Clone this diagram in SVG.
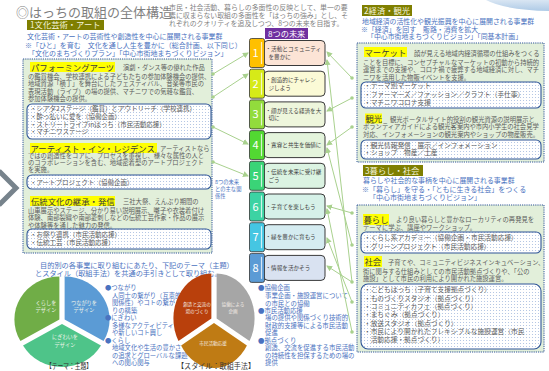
<svg xmlns="http://www.w3.org/2000/svg" width="549" height="371" viewBox="0 0 549 371">
<defs>
<style>
text{font-family:'Noto Sans CJK JP','Noto Sans',sans-serif;}
.ti{font-size:13px;fill:#7f7f7f}
.sub{font-size:6.9px;fill:#7f7f7f}
.sec{fill:#7f7f00}
.sect{font-size:8.3px;fill:#f4f4dc}
.bl{fill:#4a72c0}
.b7{font-size:7px}
.g{fill:#5c5c5c;font-size:6.3px}
.hl{fill:#ffff00}
.ht{font-size:8.4px;fill:#3a3a3a}
.box{fill:#e2efda;stroke:#2f5597;stroke-width:1;stroke-dasharray:1.2 1}
.inner{fill:url(#dots);stroke:#2f5597;stroke-width:1.1}
.li{fill:#5c5c5c;font-size:6.5px}
.lir{fill:#5c5c5c;font-size:6.7px}
.tab{stroke:#333;stroke-width:0.8}
.stripe{stroke:#fff;stroke-opacity:0.75;stroke-width:1.2}
.num{font-size:11px;fill:#fff;text-anchor:middle}
.fb{stroke:#3a3a3a;stroke-width:1}
.ft{font-size:5.6px;fill:#404040}
.con{stroke:#a9d18e;stroke-width:1;fill:none;marker-end:url(#ah)}
.dot{fill:#a9d18e}
.pl{font-size:5.2px;fill:#eef4ea;text-anchor:middle}
.pl2{font-size:4.6px;fill:#f4ece6;text-anchor:middle}
.m{font-size:6.4px}
.bt{font-size:6.3px}
</style>
<pattern id="dots" width="3" height="3" patternUnits="userSpaceOnUse"><rect width="3" height="3" fill="#fff"/><circle cx="1.5" cy="1.5" r="0.55" fill="#a8bde0"/></pattern>
<marker id="ah" markerUnits="userSpaceOnUse" markerWidth="6" markerHeight="6" refX="5" refY="3" orient="auto"><path d="M0,0 L6,3 L0,6 Z" fill="#a9d18e"/></marker>
<linearGradient id="blob" x1="0" y1="0" x2="0" y2="1"><stop offset="0" stop-color="#d9e6f3"/><stop offset="1" stop-color="#aecae6"/></linearGradient>
</defs>
<rect width="549" height="371" fill="#fff"/>
<path d="M486,0 Q505,10 549,11 V0 Z" fill="url(#blob)"/>

<g id="title">
<text class="ti" x="16" y="16.8">◎はっちの取組の全体構造</text>
<text class="sub" x="169" y="10">市民・社会活動、暮らしの多面性の反映として、単一の要</text>
<text class="sub" x="169" y="18">素に収まらない取組の多面性を「はっちの強み」とし、そ</text>
<text class="sub" x="169" y="25.5">れぞれのクオリティを追及しつつ、8つの未来を目指す。</text>
</g>

<polyline points="-1,171 16,188 -1,205" fill="none" stroke="#77838c" stroke-width="5"/>

<g id="sec1">
<rect class="sec" x="27" y="20" width="77" height="10"/>
<text class="sect" x="30" y="28.3">1文化芸術・アート</text>
<text class="bl b7" x="27" y="39">文化芸術・アートの芸術性や創造性を中心に展開される事業群</text>
<text class="bl b7" x="25" y="48" font-size="6.9">※「ひと」を育む　文化を通し人生を豊かに（総合計画、以下同じ）</text>
<text class="bl b7" x="28" y="56">「文化のまちづくりプラン」「中心市街地まちづくりビジョン」</text>
</g>

<g id="left-box">
<rect class="box" x="23" y="59" width="189" height="194"/>
<rect class="hl" x="30" y="62" width="85" height="10"/>
<text class="ht" x="31" y="70.5">パフォーミングアーツ</text>
<text class="g" x="123" y="70.3">演劇・ダンス等の優れた作品</text>
<text class="g" x="28" y="79">の鑑賞機会、学校連携による子どもたちの参加体験機会の提供、</text>
<text class="g" x="28" y="86.3">地域資源「横丁」を舞台にしたフェスティバル、音楽等市民の</text>
<text class="g" x="28" y="93.6">表現活動（ライブ）の場の提供、マチニワでの気軽な鑑賞、</text>
<text class="g" x="28" y="100.9">参加体験機会の提供。</text>
<rect class="inner" x="27" y="104" width="184" height="35" rx="5"/>
<text class="li" x="30" y="111.3">・シアタ2ステージ（鑑賞）とアウトリーチ（学校連携）</text>
<text class="li" x="30" y="119">・酔っ払いに愛を（協働企画）</text>
<text class="li" x="30" y="126.7">・ストリートライブinはっち（市民活動応援）</text>
<text class="li" x="30" y="134.4">・マチニワステージ</text>

<rect class="hl" x="30" y="143" width="127" height="10"/>
<text class="ht" x="30.5" y="151.5">アーティスト・イン・レジデンス</text>
<text class="g" x="160" y="151.3">アーティストなら</text>
<text class="g" x="28" y="157.5">ではの創造性をコアに、プロセスを重視し、様々な属性の人と</text>
<text class="g" x="28" y="164.6">のコラボレーションを含む、地域密着型のアートプロジェクト</text>
<text class="g" x="28" y="171.5">を実施。</text>
<rect class="inner" x="27" y="175" width="184" height="14" rx="5"/>
<text class="li" x="30" y="184.5">・アートプロジェクト（協働企画）</text>

<rect class="hl" x="30" y="196" width="85" height="10"/>
<text class="ht" x="31" y="204.5">伝統文化の継承・発信</text>
<text class="g" x="123" y="204.3">三社大祭、えんぶり期間の</text>
<text class="g" x="28" y="212.5">山車展示やステージ、分かり易い説明展示、囃子や衣装着付け</text>
<text class="g" x="28" y="220">体験、南部裂織や南部菱刺しなどの伝統工芸作家・作品の展示</text>
<text class="g" x="28" y="227.5">や体験等を通した魅力の発信。</text>
<rect class="inner" x="27" y="229" width="184" height="20" rx="5"/>
<text class="li" x="30" y="236.5">・お祭り連携（市民活動応援）</text>
<text class="li" x="30" y="245">・伝統工芸（市民活動応援）</text>
</g>

<g id="note">
<text class="bl" font-size="5.3" x="215" y="184">8つの未来</text>
<text class="bl" font-size="5.3" x="215" y="191">との主な関</text>
<text class="bl" font-size="5.3" x="215" y="198">係性</text>
</g>

<g id="futures-header">
<rect x="265" y="28" width="43" height="11" fill="#7030a0"/>
<text x="268" y="36.7" font-size="8.2" fill="#fff">8つの未来</text>
</g>

<g id="f1">
<rect class="fb" x="264" y="40.5" width="61" height="25" rx="4" fill="#fce4d6"/>
<rect class="tab" x="249.5" y="38.5" width="15" height="29" rx="2" fill="#ffc000"/>
<line class="stripe" x1="261.5" y1="42" x2="261.5" y2="64"/>
<text class="num" x="255.5" y="57">1</text>
<text class="ft" x="265.5" y="51.2">・活動とコミュニティ</text>
<text class="ft" x="268.5" y="59">を豊かに</text>
</g>
<g id="f2">
<rect class="fb" x="264" y="71.2" width="61" height="25" rx="4" fill="#fbfad6"/>
<rect class="tab" x="249.5" y="69.2" width="15" height="29" rx="2" fill="#d6ea18"/>
<line class="stripe" x1="261.5" y1="72.7" x2="261.5" y2="94.7"/>
<text class="num" x="255.5" y="87.7">2</text>
<text class="ft" x="265.5" y="81.9">・創造的にチャレン</text>
<text class="ft" x="268.5" y="89.7">ジしよう</text>
</g>
<g id="f3">
<rect class="fb" x="264" y="101.9" width="61" height="25" rx="4" fill="#eef6dc"/>
<rect class="tab" x="249.5" y="99.9" width="15" height="29" rx="2" fill="#92dc3c"/>
<line class="stripe" x1="261.5" y1="103.4" x2="261.5" y2="125.4"/>
<text class="num" x="255.5" y="118.4">3</text>
<text class="ft" x="265.5" y="112.6">・顔が見える経済を大</text>
<text class="ft" x="268.5" y="120.4">切に</text>
</g>
<g id="f4">
<rect class="fb" x="264" y="132.6" width="61" height="25" rx="4" fill="#e4f4dc"/>
<rect class="tab" x="249.5" y="130.6" width="15" height="29" rx="2" fill="#52d832"/>
<line class="stripe" x1="261.5" y1="134.1" x2="261.5" y2="156.1"/>
<text class="num" x="255.5" y="149.1">4</text>
<text class="ft" x="265.5" y="147.1">・寛容と共生を価値に</text>
</g>
<g id="f5">
<rect class="fb" x="264" y="163.3" width="61" height="25" rx="4" fill="#dbf3e2"/>
<rect class="tab" x="249.5" y="161.3" width="15" height="29" rx="2" fill="#3ad477"/>
<line class="stripe" x1="261.5" y1="164.8" x2="261.5" y2="186.8"/>
<text class="num" x="255.5" y="179.8">5</text>
<text class="ft" x="265.5" y="174">・伝統を未来に受け継</text>
<text class="ft" x="268.5" y="181.8">ごう</text>
</g>
<g id="f6">
<rect class="fb" x="264" y="194" width="61" height="25" rx="4" fill="#d6f1e8"/>
<rect class="tab" x="249.5" y="192" width="15" height="29" rx="2" fill="#3cd3a3"/>
<line class="stripe" x1="261.5" y1="195.5" x2="261.5" y2="217.5"/>
<text class="num" x="255.5" y="210.5">6</text>
<text class="ft" x="265.5" y="208.5">・子育てを楽しもう</text>
</g>
<g id="f7">
<rect class="fb" x="264" y="224.7" width="61" height="25" rx="4" fill="#d5ecf1"/>
<rect class="tab" x="249.5" y="222.7" width="15" height="29" rx="2" fill="#45c6e2"/>
<line class="stripe" x1="261.5" y1="226.2" x2="261.5" y2="248.2"/>
<text class="num" x="255.5" y="241.2">7</text>
<text class="ft" x="265.5" y="239.2">・緑を豊かに育もう</text>
</g>
<g id="f8">
<rect class="fb" x="264" y="255.4" width="61" height="25" rx="4" fill="#d9e2f1"/>
<rect class="tab" x="249.5" y="253.4" width="15" height="29" rx="2" fill="#5b9bd5"/>
<line class="stripe" x1="261.5" y1="256.9" x2="261.5" y2="278.9"/>
<text class="num" x="255.5" y="271.9">8</text>
<text class="ft" x="265.5" y="269.9">・情報を活かそう</text>
</g>

<g id="styles-legend">
<text class="bl m" x="258" y="290.3">●協働企画</text>
<text class="bl m" x="265" y="298">事業企画・施設運営について</text>
<text class="bl m" x="265" y="305.5">の市民との協働</text>
<text class="bl m" x="258" y="312.8">●市民活動応援</text>
<text class="bl m" x="265" y="320.2">場の提供や関係づくり技術的</text>
<text class="bl m" x="265" y="327.6">財政的支援等による市民活動</text>
<text class="bl m" x="265" y="335">促進</text>
<text class="bl m" x="258" y="342.5">●拠点づくり</text>
<text class="bl m" x="265" y="350">創造、交流を促進する市民活動</text>
<text class="bl m" x="265" y="357.5">の持続性を担保するための場の</text>
<text class="bl m" x="265" y="365">提供</text>
</g>

<g id="sec2">
<rect class="sec" x="362" y="5" width="50" height="11"/>
<text class="sect" x="364" y="14">2経済・観光</text>
<text class="bl" font-size="6.9" x="362" y="23.5">地域経済の活性化や観光振興を中心に展開される事業群</text>
<text class="bl" font-size="6.9" x="361" y="31.5">※「経済」を回す　販路・消費を拡大</text>
<text class="bl" font-size="6.9" x="367" y="39.3">「中心市街地まちづくりビジョン」「同基本計画」</text>
</g>

<g id="right-box-1">
<rect class="box" x="357" y="43" width="187" height="119"/>
<rect class="hl" x="364" y="47" width="43" height="10"/>
<text class="ht" x="364.5" y="55.5">マーケット</text>
<text class="g" x="414" y="55.5">顔が見える地域内経済循環の仕組みをつくる</text>
<text class="g" x="363" y="64.5">ことを目標に、コンセプチャルなマーケットの初動から持続的</text>
<text class="g" x="363" y="72">運営までの支援や、コロナ禍で疲弊する地域経済に対し、マチ</text>
<text class="g" x="363" y="79.7">ニワを活用した物販イベントを支援。</text>
<rect class="inner" x="361" y="82" width="180" height="26" rx="5"/>
<text class="lir" x="364" y="88.3">・テーマ別マーケット</text>
<text class="lir" x="364" y="96.8">・ファーマーズ／ファッション／クラフト（手仕事）</text>
<text class="lir" x="364" y="105.3">・マチニワコロナ支援</text>
<rect class="hl" x="365" y="113.5" width="17" height="10"/>
<text class="ht" x="365.5" y="121.7">観光</text>
<text class="g" x="390" y="121.5">観光ポータルサイト的役割の観光資源の説明展示と</text>
<text class="g" x="363" y="129">ボランティアガイドによる観光客案内や市内小学生の社会見学</text>
<text class="g" x="363" y="136.6">対応、インフォメーションの観光案内やショップの物産販売。</text>
<rect class="inner" x="361" y="140" width="180" height="19" rx="5"/>
<text class="lir" x="364" y="147.5">・観光情報発信　展示／インフォメーション</text>
<text class="lir" x="364" y="155.3">・ショップ　物産／土産</text>
</g>

<g id="sec3">
<rect class="sec" x="363" y="165" width="60" height="11"/>
<text class="sect" x="365" y="174">3暮らし・社会</text>
<text class="bl" font-size="6.9" x="363" y="183">暮らしや社会的な事柄を中心に展開される事業群</text>
<text class="bl" font-size="7" x="362" y="191.7">※「暮らし」を守る・「ともに生きる社会」をつくる</text>
<text class="bl" font-size="7" x="369" y="200.2">「中心市街地まちづくりビジョン」</text>
</g>

<g id="right-box-2">
<rect class="box" x="357" y="205" width="187" height="147"/>
<rect class="hl" x="363" y="214" width="26" height="11"/>
<text class="ht" x="363.5" y="222.8" font-size="8.6">暮らし</text>
<text class="g" x="396" y="222.3">より良い暮らしと豊かなローカリティの再発見を</text>
<text class="g" x="363" y="229.5">テーマに学ぶ、講座やワークショップ。</text>
<rect class="inner" x="361" y="232" width="180" height="21" rx="5"/>
<text class="lir" x="364" y="240">・くらし系アカデミー（協働企画・市民活動応援）</text>
<text class="lir" x="364" y="248.5">・グリーンプロジェクト（市民活動応援）</text>
<rect class="hl" x="364" y="256" width="18" height="11"/>
<text class="ht" x="364.5" y="264.8" font-size="8.6">社会</text>
<text class="g" x="388" y="264.5" font-size="6">子育てや、コミュニティビジネスインキュベーション、</text>
<text class="g" x="363" y="273.5">街に関与する仕組みとしての市民活動拠点づくりや、「公の</text>
<text class="g" x="363" y="281">施設」として市民の利用により開かれた施設運営。</text>
<rect class="inner" x="361" y="284" width="180" height="65" rx="7"/>
<text class="lir" x="364" y="292.3">・こどもはっち（子育て支援拠点づくり）</text>
<text class="lir" x="364" y="300.6">・ものづくりスタジオ（拠点づくり）</text>
<text class="lir" x="364" y="308.9">・コミュニティカフェ（拠点づくり）</text>
<text class="lir" x="364" y="317.2">・まちぐみ（拠点づくり）</text>
<text class="lir" x="364" y="325.5">・放送スタジオ（拠点づくり）</text>
<text class="lir" x="364" y="333.8">・市民により開かれたフレキシブルな施設運営（市民</text>
<text class="lir" x="364" y="342.1">　活動応援・拠点づくり）</text>
</g>

<g id="connectors">
<line class="con" x1="213" y1="74" x2="248" y2="53"/>
<line class="con" x1="213" y1="97" x2="248" y2="74"/>
<line class="con" x1="213" y1="127" x2="248" y2="144"/>
<line class="con" x1="213" y1="162" x2="248" y2="176"/>
<line class="con" x1="352" y1="78" x2="327" y2="52"/>
<line class="con" x1="352" y1="282" x2="327" y2="60"/>
<line class="con" x1="352" y1="98" x2="327" y2="111"/>
<line class="con" x1="352" y1="127" x2="327" y2="145"/>
<line class="con" x1="352" y1="245" x2="327" y2="148"/>
<line class="con" x1="352" y1="213" x2="327" y2="206"/>
<line class="con" x1="352" y1="332" x2="327" y2="209"/>
<line class="con" x1="352" y1="302" x2="327" y2="238"/>
<line class="con" x1="352" y1="282" x2="327" y2="266"/>
<circle class="dot" cx="213" cy="74" r="1.8"/>
<circle class="dot" cx="213" cy="97" r="1.8"/>
<circle class="dot" cx="213" cy="127" r="1.8"/>
<circle class="dot" cx="213" cy="162" r="1.8"/>
<circle class="dot" cx="352" cy="78" r="1.8"/>
<circle class="dot" cx="352" cy="98" r="1.8"/>
<circle class="dot" cx="352" cy="127" r="1.8"/>
<circle class="dot" cx="352" cy="213" r="1.8"/>
<circle class="dot" cx="352" cy="245" r="1.8"/>
<circle class="dot" cx="352" cy="282" r="1.8"/>
<circle class="dot" cx="352" cy="302" r="1.8"/>
<circle class="dot" cx="352" cy="332" r="1.8"/>
</g>

<g id="guide">
<text class="bl" font-size="7.2" x="40" y="267.5">目的別の各事業に取り組むにあたり、下記のテーマ（主題）</text>
<text class="bl" font-size="7.2" x="35" y="275.5">とスタイル（取組手法）を共通の手引きとして取り組む。</text>
</g>

<g id="theme-pie">
<path d="M64.6,319.5 L64.6,276.5 A45,43 0 0 1 103.57,341 Z" fill="#5b9bd5"/>
<path d="M62,324 L100.97,345.5 A45,43 0 0 1 23.03,345.5 Z" fill="#4ec489"/>
<path d="M59.4,319.5 L20.43,341 A45,43 0 0 1 59.4,276.5 Z" fill="#70ad47"/>
<text class="pl" x="46" y="305">くらしを</text>
<text class="pl" x="46" y="312">デザイン</text>
<text class="pl" x="84" y="305">つながりを</text>
<text class="pl" x="84" y="312">デザイン</text>
<text class="pl" x="65" y="339">にぎわいを</text>
<text class="pl" x="65" y="347">デザイン</text>
<text x="46" y="369" font-size="7.6" fill="#333" textLength="46" lengthAdjust="spacingAndGlyphs">【テーマ：主題】</text>
</g>

<g id="theme-legend">
<text class="bl bt" x="105" y="290.3">●つながり</text>
<text class="bl bt" x="112" y="297.5">人同士の繋がり（互恵的</text>
<text class="bl bt" x="112" y="305.3">関係性）やコトの繋が</text>
<text class="bl bt" x="112" y="312.5">りの構築</text>
<text class="bl bt" x="105" y="320.3">●にぎわい</text>
<text class="bl bt" x="112" y="327.5">多様なアクティビティ</text>
<text class="bl bt" x="112" y="335.3">や新しいコト興し</text>
<text class="bl bt" x="105" y="342.5">●くらし</text>
<text class="bl bt" x="112" y="350.3">地域文化や生活の豊かさ</text>
<text class="bl bt" x="112" y="357.5">の追求とグローバルな課題</text>
<text class="bl bt" x="112" y="365.3">への関心関与</text>
</g>

<g id="style-pie">
<path d="M216.6,318.5 L216.6,273.5 A38,45 0 0 1 249.5,341 Z" fill="#a6a6a6"/>
<path d="M214,323 L246.9,345.5 A38,45 0 0 1 181.1,345.5 Z" fill="#bf7b14"/>
<path d="M211.4,318.5 L178.5,341 A38,45 0 0 1 211.4,273.5 Z" fill="#b9400c"/>
<text class="pl2" x="197" y="306">創造と交流の</text>
<text class="pl2" x="197" y="313">場のづくり</text>
<text class="pl2" x="233" y="306">協働による</text>
<text class="pl2" x="233" y="313">企画</text>
<text class="pl2" x="213" y="345">市民活動応援</text>
<text x="177" y="369" font-size="7.6" fill="#333" textLength="78" lengthAdjust="spacingAndGlyphs">【スタイル：取組手法】</text>
</g>
</svg>
